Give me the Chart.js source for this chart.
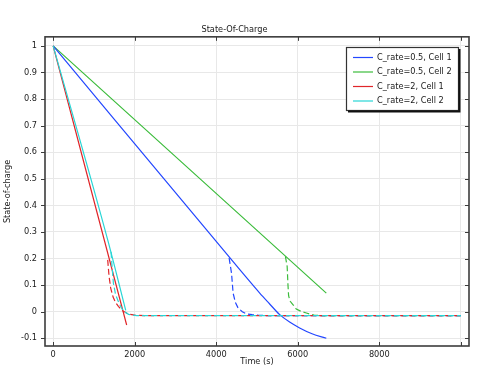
<!DOCTYPE html>
<html>
<head>
<meta charset="utf-8">
<script src="https://cdn.jsdelivr.net/npm/chart.js@4/dist/chart.umd.min.js"></script>
<style>
  html, body { margin: 0; padding: 0; background: #fff; }
  #wrap { width: 477px; height: 373px; }
</style>
</head>
<body>
<div id="wrap"><canvas id="chartSoc"></canvas></div>
<script>
'use strict';

/* ─── DATA ───────────────────────────────────────────────── */
const labels = ['C_rate=0.5, Cell 1', 'C_rate=0.5, Cell 2', 'C_rate=2, Cell 1', 'C_rate=2, Cell 2'];
const colors = ['#2347ff', '#3cbc3c', '#e0262a', '#28d6d6'];

// solid curves
const tBlue   = [0, 4578, 5067, 5300, 5557, 5800, 6046, 6350, 6700];
const socBlue = [1, 0.158, 0.07, 0.031, -0.011, -0.039, -0.061, -0.083, -0.1];
const tGreen   = [0, 6700];
const socGreen = [1, 0.07];
const tRed   = [0, 1803];
const socRed = [1, -0.05];
const tCyan   = [0, 1338, 1780];
const socCyan = [1, 0.27, 0.005];

// dashed curves
const tBlueD   = [4316, 4375, 4414, 4470, 4536, 4640, 4741, 4880, 5018, 5300, 10000];
const socBlueD = [0.202, 0.145, 0.07, 0.035, 0.014, 0.0, -0.008, -0.011, -0.013, -0.015, -0.015];
const tGreenD   = [5697, 5740, 5760, 5775, 5810, 5875, 5964, 6100, 6210, 6400, 6600, 10000];
const socGreenD = [0.208, 0.17, 0.1, 0.06, 0.04, 0.028, 0.01, 0.0, -0.005, -0.013, -0.015, -0.015];
const tRedD   = [1338, 1370, 1410, 1470, 1530, 1600, 1700, 1830, 2000, 2300, 10000];
const socRedD = [0.195, 0.135, 0.09, 0.055, 0.035, 0.02, 0.004, -0.008, -0.013, -0.015, -0.015];
const tCyanD   = [1420, 1450, 1477, 1530, 1620, 1722, 1850, 2050, 10000];
const socCyanD = [0.225, 0.16, 0.108, 0.065, 0.03, 0.003, -0.01, -0.015, -0.015];

const xTicks = [0, 2000, 4000, 6000, 8000, 10000];
const yTicks = [-0.1, 0, 0.1, 0.2, 0.3, 0.4, 0.5, 0.6, 0.7, 0.8, 0.9, 1];

const FONT = { family: 'DejaVu Sans', size: 8.2, weight: 'normal' };
const TXT  = '#1a1a1a';

function pts(t, v) { return t.map((x, i) => ({ x, y: v[i] })); }

function solid(i, t, v, order) {
  return { label: labels[i], data: pts(t, v), borderColor: colors[i], borderWidth: 1.2,
           pointRadius: 0, fill: false, order, cubicInterpolationMode: 'monotone' };
}
function dashed(i, t, v, order) {
  return { label: '', data: pts(t, v), borderColor: colors[i], borderWidth: 1.2,
           borderDash: [6, 3], pointRadius: 0, fill: false, order };
}

/* ─── PLUGINS ────────────────────────────────────────────── */
const framePlugin = {
  id: 'frame',
  afterDraw(chart) {
    const { ctx, chartArea: a, scales } = chart;
    ctx.save();
    ctx.strokeStyle = '#3c3c3c';
    ctx.lineWidth = 1;
    // tick marks
    ctx.beginPath();
    xTicks.forEach(v => {
      const x = Math.round(scales.x.getPixelForValue(v)) + 0.5;
      ctx.moveTo(x, a.top); ctx.lineTo(x, a.top + 4);
      ctx.moveTo(x, a.bottom); ctx.lineTo(x, a.bottom - 4);
    });
    yTicks.forEach(v => {
      const y = Math.round(scales.y.getPixelForValue(v)) + 0.5;
      ctx.moveTo(a.left, y); ctx.lineTo(a.left - 4, y);
      ctx.moveTo(a.right, y); ctx.lineTo(a.right - 4, y);
    });
    ctx.stroke();
    ctx.lineWidth = 1.6;
    ctx.strokeRect(a.left, a.top, a.right - a.left, a.bottom - a.top);
    ctx.restore();
  },
};

const legendPlugin = {
  id: 'boxLegend',
  afterDraw(chart) {
    const { ctx } = chart;
    const x0 = 346, y0 = 47, w = 112, h = 63;
    ctx.save();
    ctx.fillStyle = '#fff';
    ctx.fillRect(x0, y0, w, h);
    ctx.strokeStyle = '#333';
    ctx.lineWidth = 1.2;
    ctx.strokeRect(x0 + 0.5, y0 + 0.5, w, h);
    ctx.strokeStyle = '#111';
    ctx.lineWidth = 2;
    ctx.beginPath();
    ctx.moveTo(x0 + w + 1.5, y0 + 2); ctx.lineTo(x0 + w + 1.5, y0 + h + 1.5); ctx.lineTo(x0 + 2, y0 + h + 1.5);
    ctx.stroke();
    ctx.font = `${FONT.size}px ${FONT.family}`;
    ctx.textBaseline = 'middle';
    labels.forEach((lab, i) => {
      const y = y0 + 10.5 + i * 14.5;
      ctx.strokeStyle = colors[i];
      ctx.lineWidth = 1.2;
      ctx.beginPath(); ctx.moveTo(x0 + 7, y); ctx.lineTo(x0 + 27, y); ctx.stroke();
      ctx.fillStyle = TXT;
      ctx.fillText(lab, x0 + 31, y);
    });
    ctx.restore();
  },
};

/* ─── CHART ──────────────────────────────────────────────── */
const ctx = document.getElementById('chartSoc').getContext('2d');
new Chart(ctx, {
  type: 'line',
  data: {
    datasets: [
      solid(0, tBlue, socBlue, 5),
      solid(1, tGreen, socGreen, 6),
      solid(2, tRed, socRed, 4),
      solid(3, tCyan, socCyan, 3),
      dashed(0, tBlueD, socBlueD, 7),
      dashed(1, tGreenD, socGreenD, 8),
      dashed(2, tRedD, socRedD, 2),
      dashed(3, tCyanD, socCyanD, 1),
    ],
  },
  options: {
    responsive: true,
    maintainAspectRatio: false,
    animation: false,
    layout: { padding: { left: 0, right: 8, top: 0, bottom: 0 } },
    plugins: {
      legend: { display: false },
      tooltip: { enabled: false },
      title: {
        display: true,
        text: 'State-Of-Charge',
        color: TXT,
        font: FONT,
        padding: { top: 25, bottom: 2 },
      },
    },
    scales: {
      x: {
        type: 'linear',
        min: -200,
        max: 10200,
        afterBuildTicks: s => { s.ticks = xTicks.map(v => ({ value: v })); },
        afterFit: s => { s.height = 27; },
        grid: { color: '#e8e8e8', drawTicks: false },
        border: { display: false },
        ticks: {
          color: TXT, font: FONT, padding: 4, maxRotation: 0,
          callback: v => (v === 10000 ? '' : String(v)),
        },
        title: { display: true, text: 'Time (s)', color: TXT, font: FONT, padding: { top: 0, bottom: 6 } },
      },
      y: {
        type: 'linear',
        min: -0.129,
        max: 1.034,
        afterBuildTicks: s => { s.ticks = yTicks.map(v => ({ value: v })); },
        afterFit: s => { s.width = 45; },
        grid: { color: '#e8e8e8', drawTicks: false },
        border: { display: false },
        ticks: {
          color: TXT, font: FONT, padding: 8,
          callback: v => String(Math.round(v * 10) / 10),
        },
        title: { display: true, text: 'State-of-charge', color: TXT, font: FONT, padding: { top: 3, bottom: 0 } },
      },
    },
  },
  plugins: [framePlugin, legendPlugin],
});
</script>
</body>
</html>
